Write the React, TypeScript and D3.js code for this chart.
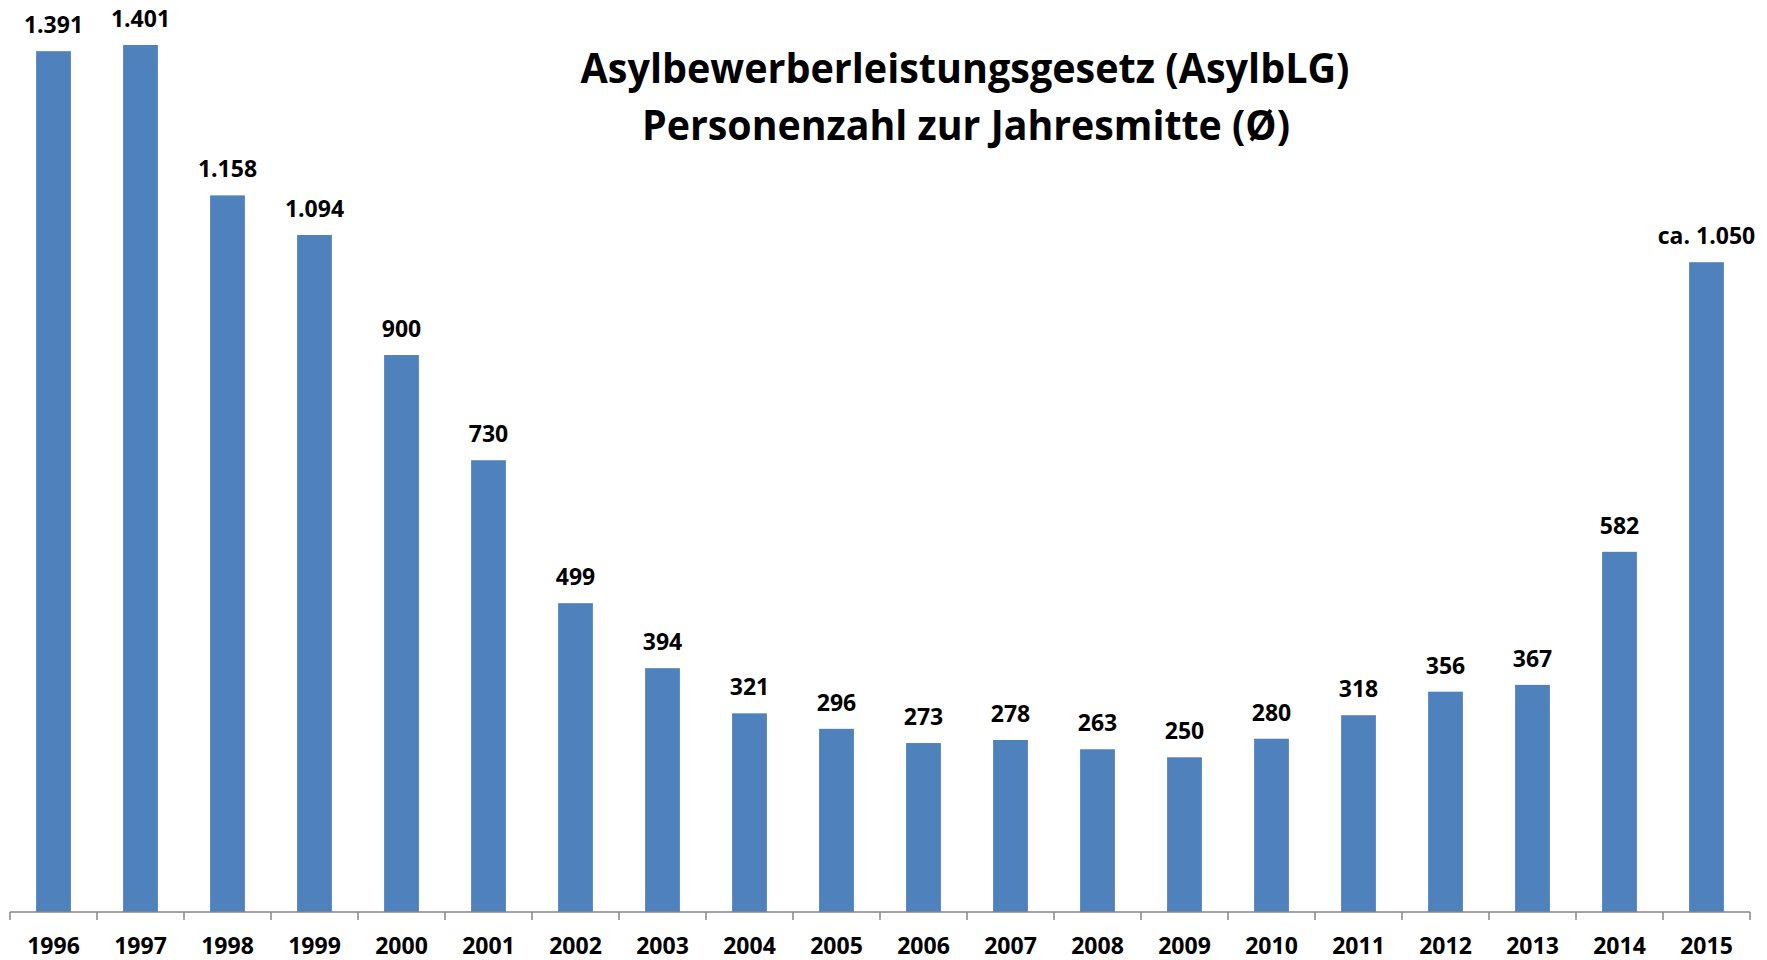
import React from "react";
import * as d3 from "d3";

const years = ["1996","1997","1998","1999","2000","2001","2002","2003","2004","2005","2006","2007","2008","2009","2010","2011","2012","2013","2014","2015"];
const values = [1391,1401,1158,1094,900,730,499,394,321,296,273,278,263,250,280,318,356,367,582,1050];
const valueLabels = ["1.391","1.401","1.158","1.094","900","730","499","394","321","296","273","278","263","250","280","318","356","367","582","ca. 1.050"];
const titleLines = ["Asylbewerberleistungsgesetz (AsylbLG)", "Personenzahl zur Jahresmitte (Ø)"];

const W = 1767, H = 960;
const axisY = 912;
const left = 10, right = 1750;
const font = "'Open Sans', 'Liberation Sans', sans-serif";

export default function App() {
  const x = d3.scaleBand<string>().domain(years).range([left, right]).paddingInner(0.6).paddingOuter(0.3);
  const y = d3.scaleLinear().domain([0, 1401]).range([axisY, 45]);
  const step = x.step();
  const tickXs = d3.range(years.length + 1).map(i => left + i * step);
  return (
    <svg width={W} height={H} style={{ position: "absolute", left: 0, top: 0, background: "#fff" }}>
      <rect x={0} y={0} width={W} height={H} fill="#fff" />
      {years.map((yr, i) => (
        <rect key={yr} x={x(yr)} y={y(values[i])} width={x.bandwidth()} height={axisY - y(values[i])} fill="#4F81BD" />
      ))}
      <line x1={left} x2={right} y1={axisY} y2={axisY} stroke="#868686" strokeWidth={1.5} />
      {tickXs.map((tx, i) => (
        <line key={i} x1={tx} x2={tx} y1={axisY} y2={axisY + 8} stroke="#868686" strokeWidth={1.5} />
      ))}
      {years.map((yr, i) => (
        <text key={"v" + yr} x={(x(yr) as number) + x.bandwidth() / 2} y={y(values[i]) - 18} textAnchor="middle"
          fontFamily={font} fontWeight="bold" fontSize={23} fill="#000">{valueLabels[i]}</text>
      ))}
      {years.map((yr) => (
        <text key={"y" + yr} x={(x(yr) as number) + x.bandwidth() / 2} y={954} textAnchor="middle"
          fontFamily={font} fontWeight="bold" fontSize={23} fill="#000">{yr}</text>
      ))}
      <text x={965} y={83} textAnchor="middle" fontFamily={font} fontWeight="bold" fontSize={41} fill="#000"
        textLength={769} lengthAdjust="spacingAndGlyphs">{titleLines[0]}</text>
      <text x={966} y={140} textAnchor="middle" fontFamily={font} fontWeight="bold" fontSize={41} fill="#000"
        textLength={648} lengthAdjust="spacingAndGlyphs">{titleLines[1]}</text>
    </svg>
  );
}
